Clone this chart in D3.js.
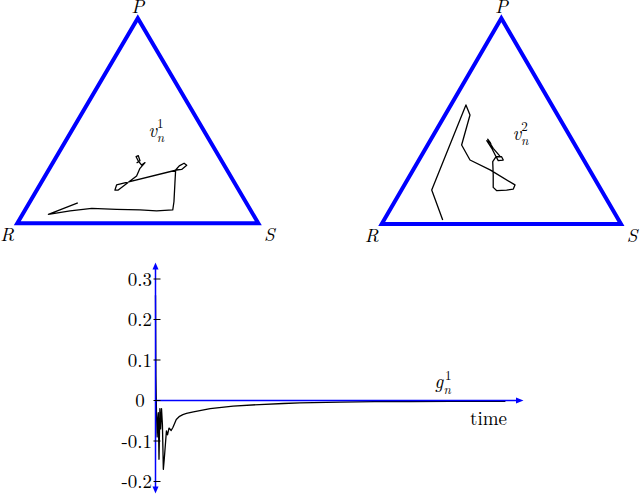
<!DOCTYPE html>
<html>
<head>
<meta charset="utf-8">
<script src="https://cdn.jsdelivr.net/npm/d3@7"></script>
<style>
  html, body { margin: 0; padding: 0; background: #fff; }
  svg { display: block; }
</style>
</head>
<body>
<svg id="chart" width="640" height="495"></svg>
<script>
// ---- Data ----
// Simplex vertices in plot coordinates (x: R->S fraction, y: height fraction)
const vertexNames = ["R", "S", "P"];
const vertexX = [0, 1, 0.5];
const vertexY = [0, 0, 1];

// Trajectory v_n^1 (left simplex), [x, y] in simplex plot coordinates
const v1Path = [
  [0.251, 0.100], [0.129, 0.044], [0.219, 0.061], [0.309, 0.073], [0.412, 0.068],
  [0.509, 0.065], [0.578, 0.061], [0.645, 0.065], [0.650, 0.105], [0.654, 0.195],
  [0.657, 0.260], [0.672, 0.280], [0.692, 0.293], [0.703, 0.283], [0.682, 0.263],
  [0.661, 0.260], [0.412, 0.187], [0.405, 0.162], [0.419, 0.162], [0.495, 0.231],
  [0.509, 0.268], [0.530, 0.296], [0.516, 0.284], [0.502, 0.304], [0.493, 0.325],
  [0.502, 0.330], [0.509, 0.305], [0.495, 0.294]
];

// Trajectory v_n^2 (right simplex)
const v2Path = [
  [0.255, 0.019], [0.209, 0.165], [0.352, 0.579], [0.369, 0.530], [0.334, 0.384],
  [0.369, 0.311], [0.453, 0.263], [0.557, 0.190], [0.550, 0.170], [0.522, 0.165],
  [0.481, 0.162], [0.466, 0.178], [0.466, 0.238], [0.464, 0.303], [0.478, 0.327],
  [0.501, 0.327], [0.508, 0.311], [0.487, 0.308], [0.478, 0.327], [0.460, 0.368],
  [0.439, 0.405], [0.456, 0.392], [0.443, 0.412], [0.466, 0.368], [0.494, 0.330]
];

// Time series g_n^1
const gTime = [0, 1.1, 2.7, 4.5, 6, 7.7, 9.6, 12, 14, 16.5, 19, 21.5, 24, 27, 30, 33, 37, 43, 48,
  57, 66, 75, 85, 104, 150, 213, 285, 351, 396, 506, 600, 700, 808, 960];
const gValue = [0.26, 0.06, -0.03, -0.09, -0.05, -0.03, -0.145, -0.02, -0.07, -0.02, -0.06, -0.17,
  -0.145, -0.11, -0.075, -0.085, -0.068, -0.074, -0.066, -0.047, -0.039, -0.035, -0.032, -0.028,
  -0.020, -0.014, -0.010, -0.0074, -0.0057, -0.004, -0.003, -0.003, -0.002, -0.002];
const yTicks = [-0.2, -0.1, 0, 0.1, 0.2, 0.3];
const yTickLabels = ["-0.2", "-0.1", "0", "0.1", "0.2", "0.3"];

// ---- Drawing ----
const svg = d3.select("#chart");
const blue = "#0000ff";
const FONT = "'Latin Modern Roman'";

function txt(sel, x, y, s, size, italic) {
  return sel.append("text")
    .attr("x", x).attr("y", y)
    .style("font-family", FONT)
    .style("font-size", size + "px")
    .style("font-style", italic ? "italic" : "normal")
    .attr("fill", "#000")
    .text(s);
}

function drawSimplex(xRange, yRange, path, labelPos, labelSup) {
  const x = d3.scaleLinear().domain([0, 1]).range(xRange);
  const y = d3.scaleLinear().domain([0, 1]).range(yRange);
  const g = svg.append("g");
  const verts = vertexX.map((vx, i) => [x(vx), y(vertexY[i])]);
  g.append("path")
    .attr("d", d3.line()(verts) + "Z")
    .attr("fill", "none")
    .attr("stroke", blue)
    .attr("stroke-width", 4)
    .attr("stroke-linejoin", "miter");
  g.append("path")
    .attr("d", d3.line().x(d => x(d[0])).y(d => y(d[1]))(path))
    .attr("fill", "none")
    .attr("stroke", "#000")
    .attr("stroke-width", 1.3)
    .attr("stroke-linejoin", "round");
  // vertex labels
  const off = [[-10, 18], [11, 18], [0, -5]];
  vertexNames.forEach((n, i) => {
    txt(g, verts[i][0] + off[i][0], verts[i][1] + off[i][1], n, 19, true)
      .attr("text-anchor", "middle");
  });
  // v_n^k label
  const [lx, ly] = labelPos;
  txt(g, lx, ly, "v", 19, true);
  txt(g, lx + 8.8, ly - 9.5, labelSup, 13, false);
  txt(g, lx + 8.5, ly + 5, "n", 13, true);
}

drawSimplex([17.3, 258.3], [223.3, 18.3], v1Path, [148.3, 137], "1");
drawSimplex([381.7, 621], [224, 18.3], v2Path, [512.5, 140], "2");

// ---- Time series panel ----
const tx = d3.scaleLinear().domain([0, 1000]).range([155.5, 520]);
const ty = d3.scaleLinear().domain([-0.2, 0.3]).range([481.5, 279]);
const p = svg.append("g");

// curve
p.append("path")
  .attr("d", d3.line().x((d, i) => tx(gTime[i])).y(d => ty(d))(gValue))
  .attr("fill", "none")
  .attr("stroke", "#000")
  .attr("stroke-width", 1.3)
  .attr("stroke-linejoin", "round");

// axes
const x0 = tx(0), y0 = ty(0);
p.append("line").attr("x1", x0).attr("x2", 518).attr("y1", y0).attr("y2", y0)
  .attr("stroke", blue).attr("stroke-width", 1.5);
p.append("line").attr("x1", x0).attr("x2", x0).attr("y1", 267).attr("y2", 489)
  .attr("stroke", blue).attr("stroke-width", 1.5);
// arrowheads
const arrows = [
  [[x0, 262.5], [x0 - 3, 269.5], [x0 + 3, 269.5]],
  [[x0, 493.5], [x0 - 3, 486.5], [x0 + 3, 486.5]],
  [[523.5, y0], [516, y0 - 3], [516, y0 + 3]]
];
arrows.forEach(a => p.append("path").attr("d", d3.line()(a) + "Z").attr("fill", blue));

// ticks
const tickG = p.selectAll(".tick").data(yTicks).enter().append("g");
tickG.append("line")
  .attr("x1", x0 - 2).attr("x2", x0 + 5)
  .attr("y1", d => ty(d)).attr("y2", d => ty(d))
  .attr("stroke", "#000").attr("stroke-width", 1);
tickG.append("text")
  .attr("x", d => d === 0 ? 140 : 152)
  .attr("y", d => ty(d))
  .attr("dy", "0.35em")
  .style("font-family", FONT)
  .style("font-size", "19px")
  .attr("fill", "#000")
  .attr("text-anchor", d => d === 0 ? "middle" : "end")
  .text((d, i) => yTickLabels[i]);

// labels
txt(p, 470, 425, "time", 19, false);
txt(p, 434.5, 388, "g", 19, true);
txt(p, 445, 380, "1", 13, false);
txt(p, 443.5, 394, "n", 13, true);
</script>
</body>
</html>
